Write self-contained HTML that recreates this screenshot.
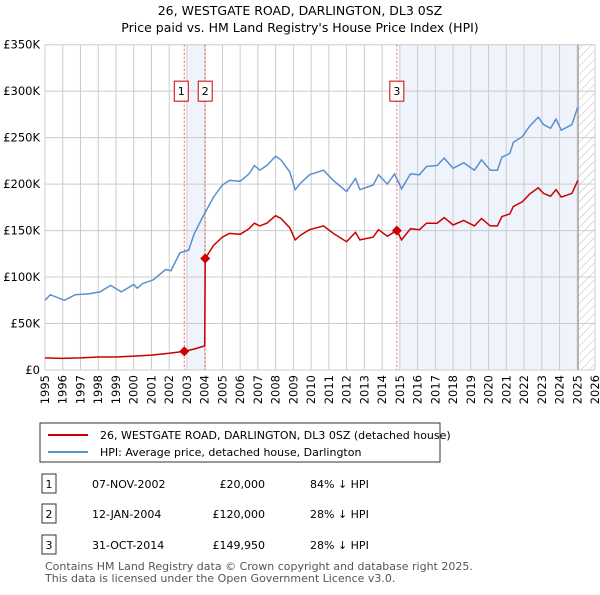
<!DOCTYPE html>
<html><head><meta charset="utf-8"><style>
body{margin:0;background:#fff;font-family:"Liberation Sans","DejaVu Sans",sans-serif;}
svg text{font-family:"DejaVu Sans","Liberation Sans",sans-serif;}
</style></head><body>
<svg id="c" width="600" height="590" xmlns="http://www.w3.org/2000/svg">
<defs><pattern id="hatch" width="6" height="6" patternUnits="userSpaceOnUse" patternTransform="rotate(45)"><line x1="0" y1="0" x2="0" y2="6" stroke="#bbb" stroke-width="1"/></pattern></defs>
<text x="300" y="15" text-anchor="middle" font-size="12.5">26, WESTGATE ROAD, DARLINGTON, DL3 0SZ</text>
<text x="300" y="32" text-anchor="middle" font-size="12.5">Price paid vs. HM Land Registry's House Price Index (HPI)</text>
<g id="plot"></g>
<g>
<rect x="40" y="423" width="400" height="39" fill="#fff" stroke="#333" stroke-width="1"/>
<line x1="48" y1="435" x2="88" y2="435" stroke="#cc0000" stroke-width="2"/>
<text x="100" y="439" font-size="11">26, WESTGATE ROAD, DARLINGTON, DL3 0SZ (detached house)</text>
<line x1="48" y1="452" x2="88" y2="452" stroke="#5b8fd0" stroke-width="2"/>
<text x="100" y="456" font-size="11">HPI: Average price, detached house, Darlington</text>
</g>
<g font-size="11">
<rect x="42" y="474" width="14" height="19" fill="#fff" stroke="#333"/><text x="49" y="488" text-anchor="middle">1</text>
<text x="92" y="488">07-NOV-2002</text><text x="265" y="488" text-anchor="end">£20,000</text><text x="310" y="488">84% ↓ HPI</text>
<rect x="42" y="504" width="14" height="19" fill="#fff" stroke="#333"/><text x="49" y="518" text-anchor="middle">2</text>
<text x="92" y="518">12-JAN-2004</text><text x="265" y="518" text-anchor="end">£120,000</text><text x="310" y="518">28% ↓ HPI</text>
<rect x="42" y="535" width="14" height="19" fill="#fff" stroke="#333"/><text x="49" y="549" text-anchor="middle">3</text>
<text x="92" y="549">31-OCT-2014</text><text x="265" y="549" text-anchor="end">£149,950</text><text x="310" y="549">28% ↓ HPI</text>
</g>
<text x="45" y="570" font-size="11" fill="#555">Contains HM Land Registry data © Crown copyright and database right 2025.</text>
<text x="45" y="582" font-size="11" fill="#555">This data is licensed under the Open Government Licence v3.0.</text>
</svg>
<script>
const yTicks=[0,50,100,150,200,250,300,350];
const yTickLabels=["£0","£50K","£100K","£150K","£200K","£250K","£300K","£350K"];
const xYears=[1995,1996,1997,1998,1999,2000,2001,2002,2003,2004,2005,2006,2007,2008,2009,2010,2011,2012,2013,2014,2015,2016,2017,2018,2019,2020,2021,2022,2023,2024,2025,2026];
const hpiYears=[1995.0,1995.3,1996.1,1996.7,1997.5,1998.1,1998.7,1999.3,2000.0,2000.2,2000.5,2001.1,2001.8,2002.1,2002.6,2003.1,2003.4,2003.9,2004.5,2005.0,2005.4,2006.0,2006.5,2006.8,2007.1,2007.5,2008.0,2008.3,2008.8,2009.1,2009.4,2009.9,2010.7,2011.25,2012.0,2012.5,2012.75,2013.5,2013.8,2014.3,2014.7,2015.1,2015.6,2016.1,2016.5,2017.1,2017.5,2018.0,2018.6,2019.2,2019.6,2020.1,2020.5,2020.75,2021.2,2021.4,2021.9,2022.3,2022.8,2023.1,2023.5,2023.8,2024.1,2024.7,2025.03];
const hpiValues=[75,81,75,81,82,84,91,84,92,88,93,97,108,107,126,129,146,165,186,199,204,203,211,220,215,220,230,226,213,194,201,210,215,204,192,206,194,199,210,200,211,195,211,210,219,220,228,217,223,215,226,215,215,229,233,245,251,262,272,264,260,270,258,264,283];
const priceYears=[1995.0,1996.0,1997.0,1998.0,1999.0,2000.0,2001.0,2002.0,2002.85,2003.5,2004.0,2004.03,2004.5,2005.0,2005.4,2006.0,2006.5,2006.8,2007.1,2007.5,2008.0,2008.3,2008.8,2009.1,2009.4,2009.9,2010.7,2011.25,2012.0,2012.5,2012.75,2013.5,2013.8,2014.3,2014.83,2015.1,2015.6,2016.1,2016.5,2017.1,2017.5,2018.0,2018.6,2019.2,2019.6,2020.1,2020.5,2020.75,2021.2,2021.4,2021.9,2022.3,2022.8,2023.1,2023.5,2023.8,2024.1,2024.7,2025.03];
const priceValues=[13,12.5,13,14,14,15,16,18,20,23,26,120,134,143,147,146,152,158,155,158,166,163,153,140,145,151,155,147,138,148,140,143,151,144,150,140,152,151,158,158,164,156,161,155,163,155,155,165,168,176,181,189,196,190,187,194,186,190,204];
const saleYears=[2002.85,2004.03,2014.83];
const saleValues=[20,120,149.95];
const saleLabels=["1","2","3"];

const X0=45,X1=595,Y0=370,Y1=44.7;
const xs=y=>X0+(y-1995)*(X1-X0)/31;
const ys=v=>Y0-v*(Y0-Y1)/350;
const NS="http://www.w3.org/2000/svg";
const g=document.getElementById('plot');
function mk(t,a,p){const e=document.createElementNS(NS,t);for(const k in a)e.setAttribute(k,a[k]);(p||g).appendChild(e);return e;}
let e=mk('rect',{x:xs(2003.04),y:Y1,width:xs(2004.03)-xs(2003.04),height:Y0-Y1,fill:'#eef3fc'});


e=mk('rect',{x:xs(2014.95),y:Y1,width:xs(2025.05)-xs(2014.95),height:Y0-Y1,fill:'#eef3fc'});


e=mk('rect',{x:xs(2025.05),y:Y1,width:X1-xs(2025.05),height:Y0-Y1,fill:'url(#hatch)'});


xYears.forEach(y=>{const l=mk('line',{x1:xs(y),x2:xs(y),y1:Y1,y2:Y0,stroke:'#cccccc','stroke-width':1});


const tx=xs(y)+4,ty=375;
const t=mk('text',{x:tx,y:ty,'text-anchor':'end','font-size':11.5,transform:`rotate(-90 ${tx} ${ty})`});t.textContent=y;

});
yTicks.forEach((v,i)=>{const l=mk('line',{x1:X0,x2:X1,y1:ys(v),y2:ys(v),stroke:'#cccccc','stroke-width':1});


const t=mk('text',{x:40,y:ys(v)+4,'text-anchor':'end','font-size':11.5});t.textContent=yTickLabels[i];

});
e=mk('line',{x1:xs(2025.05),x2:xs(2025.05),y1:Y1,y2:Y0,stroke:'#999','stroke-width':1.2});


saleYears.forEach(y=>{const l=mk('line',{x1:xs(y),x2:xs(y),y1:Y1,y2:Y0,stroke:'#ee6666','stroke-width':1,'stroke-dasharray':'2,2'});

});
function path(xa,va){return xa.map((x,i)=>(i?'L':'M')+xs(x).toFixed(1)+','+ys(va[i]).toFixed(1)).join('');}
e=mk('path',{d:path(hpiYears,hpiValues),fill:'none',stroke:'#5b8fd0','stroke-width':1.5});


e=mk('path',{d:path(priceYears,priceValues),fill:'none',stroke:'#cc0000','stroke-width':1.5});


saleYears.forEach((y,i)=>{const cx=xs(y),cy=ys(saleValues[i]);
const d=mk('path',{d:`M${cx},${cy-5}L${cx+5},${cy}L${cx},${cy+5}L${cx-5},${cy}Z`,fill:'#cc0000'});


const r=mk('rect',{x:cx-7-(i==0?3:0),y:ys(300)-10,width:14,height:20,fill:'#fff',stroke:'#cc0000'});


const t=mk('text',{x:cx-(i==0?3:0),y:ys(300)+4,'text-anchor':'middle','font-size':11});t.textContent=saleLabels[i];

});
</script>
</body></html>
